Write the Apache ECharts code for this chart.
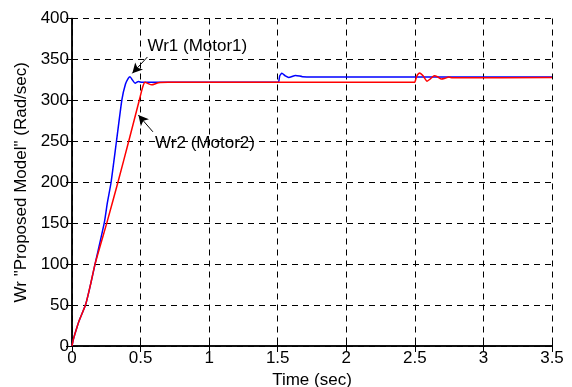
<!DOCTYPE html>
<html>
<head>
<meta charset="utf-8">
<script src="https://cdn.jsdelivr.net/npm/echarts@6/dist/echarts.min.js"></script>
<style>
  html, body { margin: 0; padding: 0; background: #fff; }
  #chart { width: 572px; height: 387px; }
</style>
</head>
<body>
<div id="chart"></div>
<script>
// Wr1 (Motor1)
const motor1Time = [0, 0.01, 0.02, 0.05, 0.1, 0.135, 0.168, 0.236, 0.258, 0.285, 0.325, 0.364, 0.39, 0.41, 0.423, 0.44, 0.46, 0.484, 0.51, 0.6, 1.5, 1.506, 1.515, 1.53, 1.555, 1.58, 1.63, 1.68, 1.75, 3.5]
const motor1Speed = [0, 8, 14, 30, 51, 75, 100, 151, 175, 200, 251, 301, 320, 327, 329, 325, 321, 323, 322, 322, 322, 322, 330, 333, 330, 328, 330.5, 329, 328.5, 328.5]

// Wr2 (Motor2)
const motor2Time = [0, 0.01, 0.02, 0.05, 0.1, 0.135, 0.168, 0.255, 0.335, 0.415, 0.492, 0.515, 0.533, 0.555, 0.58, 0.63, 0.7, 2.5, 2.503, 2.515, 2.535, 2.56, 2.589, 2.615, 2.642, 2.668, 2.693, 2.72, 2.747, 2.775, 2.8, 3.5]
const motor2Speed = [0, 8, 14, 30, 51, 75, 100, 151, 200, 251, 301, 316, 322, 320.5, 319, 321.5, 322, 322, 322, 330, 333.5, 330, 323.5, 326.5, 330, 328.5, 326, 327, 328.5, 327.5, 327.5, 328]

const xTicks = [0, 0.5, 1, 1.5, 2, 2.5, 3, 3.5]
const yTicks = [0, 50, 100, 150, 200, 250, 300, 350, 400]

const annotationText = ['Wr1 (Motor1)', 'Wr2 (Motor2)']
const annotationAnchor = [[0.55, 365.5], [0.606, 247.4]]
const arrowFrom = [[0.55, 353], [0.59, 261.6]]
const arrowTo = [[0.44, 333], [0.484, 282]]

const font = 'Liberation Sans, Arial, Helvetica, sans-serif'
const pairs = (xs, ys) => xs.map((x, i) => [x, ys[i]])

const chart = echarts.init(document.getElementById('chart'))

const tickAxis = {
  axisLine: { show: true, lineStyle: { color: '#000', width: 1.5 } },
  axisTick: { show: true, inside: true, length: 6, lineStyle: { color: '#000', width: 1 } },
  axisLabel: { show: false },
  splitLine: { show: false }
}

const option = {
  animation: false,
  grid: { left: 72, right: 20, top: 18.5, bottom: 41, outerBoundsMode: 'none' },
  xAxis: [{
    type: 'value',
    min: xTicks[0],
    max: xTicks[xTicks.length - 1],
    interval: 0.5,
    name: 'Time (sec)',
    nameLocation: 'middle',
    nameGap: 22,
    nameTextStyle: { color: '#000', fontSize: 17, fontFamily: font },
    axisLine: { lineStyle: { color: '#000', width: 1.5 } },
    axisTick: { inside: true, length: 6, lineStyle: { color: '#000' } },
    axisLabel: { color: '#000', fontSize: 17, fontFamily: font, margin: 4, formatter: v => String(v) },
    splitLine: { show: true, lineStyle: { color: '#000', width: 1, type: [6, 5] } }
  }, Object.assign({
    type: 'value', position: 'top', min: xTicks[0], max: xTicks[xTicks.length - 1], interval: 0.5
  }, tickAxis)],
  yAxis: [{
    type: 'value',
    min: yTicks[0],
    max: yTicks[yTicks.length - 1],
    interval: 50,
    name: 'Wr "Proposed Model" (Rad/sec)',
    nameLocation: 'middle',
    nameGap: 33,
    nameTextStyle: { color: '#000', fontSize: 17, fontFamily: font },
    axisLine: { lineStyle: { color: '#000', width: 1.5 } },
    axisTick: { inside: true, length: 6, lineStyle: { color: '#000' } },
    axisLabel: { color: '#000', fontSize: 17, fontFamily: font, margin: 3 },
    splitLine: { show: true, lineStyle: { color: '#000', width: 1, type: [6, 5] } }
  }, Object.assign({
    type: 'value', position: 'right', min: yTicks[0], max: yTicks[yTicks.length - 1], interval: 50
  }, tickAxis)],
  series: [{
    name: 'Wr1 (Motor1)',
    type: 'line',
    data: pairs(motor1Time, motor1Speed),
    showSymbol: false,
    smooth: 0.2,
    lineStyle: { color: '#0000ff', width: 1.5 },
    markLine: {
      silent: true,
      symbol: ['none', 'arrow'],
      symbolSize: [8, 10],
      label: { show: false },
      lineStyle: { color: '#000', width: 1, type: 'solid' },
      data: arrowFrom.map((p, i) => [{ coord: p }, { coord: arrowTo[i] }])
    }
  }, {
    name: 'Wr2 (Motor2)',
    type: 'line',
    data: pairs(motor2Time, motor2Speed),
    showSymbol: false,
    smooth: 0.2,
    lineStyle: { color: '#ff0000', width: 1.5 }
  }]
}

chart.setOption(option)

// text labels placed through the chart's own scales
chart.setOption({
  graphic: annotationText.map((t, i) => {
    const p = chart.convertToPixel({ gridIndex: 0 }, annotationAnchor[i])
    return {
      type: 'text',
      x: p[0],
      y: p[1],
      style: { text: t, fill: '#000', fontSize: 17, fontFamily: font, verticalAlign: 'middle', align: 'left' }
    }
  })
})
</script>
</body>
</html>
